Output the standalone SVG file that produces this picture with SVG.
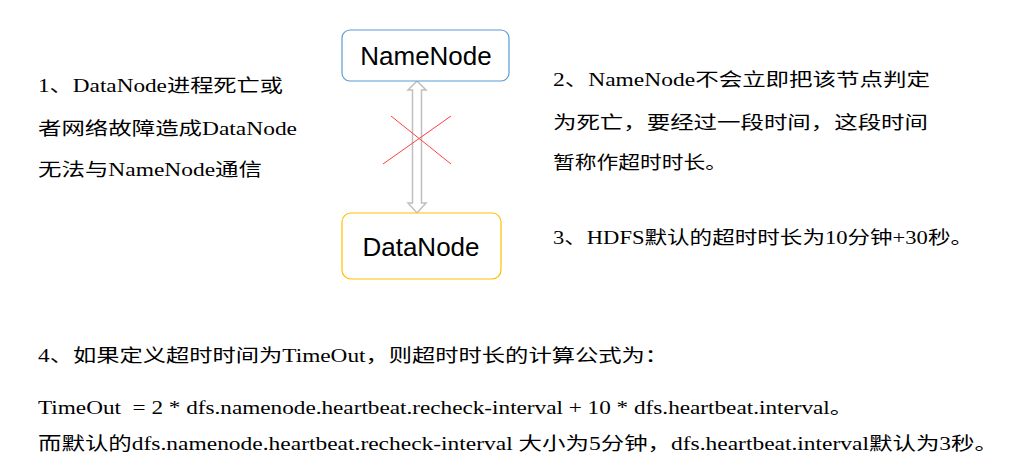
<svg xmlns="http://www.w3.org/2000/svg" width="1017" height="474" viewBox="0 0 1017 474">
<style>
.box{fill:#ffffff;stroke-width:1.2}
.nl{font-family:"Liberation Sans",Arial,sans-serif;font-size:26px;fill:#000;text-anchor:middle}
.t{font-family:"Liberation Serif","Noto Sans CJK SC",serif;font-size:18px;fill:#000}
</style>
<rect width="1017" height="474" fill="#ffffff"/>
<g id="connectors">
<polygon points="417,81 426,90 421.5,90 421.5,203 426,203 417,213 408,203 412.5,203 412.5,90 408,90" fill="#ffffff" stroke="#BFBFBF" stroke-width="1.5" stroke-linejoin="miter"/>
<line x1="391" y1="116" x2="451" y2="164" stroke="#FF4040" stroke-width="1"/>
<line x1="383" y1="164" x2="451" y2="116" stroke="#FF4040" stroke-width="1"/>
</g>
<g id="namenode">
<rect class="box" x="342" y="30" width="167" height="51" rx="8" stroke="#5B9BD5"/>
<text class="nl" x="426" y="65">NameNode</text>
</g>
<g id="datanode">
<rect class="box" x="342" y="213" width="159" height="66" rx="9" stroke="#FFC000"/>
<text class="nl" x="421" y="256">DataNode</text>
</g>
<g id="note-left">
<text class="t" x="38" y="92" textLength="245" lengthAdjust="spacingAndGlyphs">1、DataNode进程死亡或</text>
<text class="t" x="38" y="135" textLength="259" lengthAdjust="spacingAndGlyphs">者网络故障造成DataNode</text>
<text class="t" x="38" y="176" textLength="224" lengthAdjust="spacingAndGlyphs">无法与NameNode通信</text>
</g>
<g id="note-right">
<text class="t" x="553" y="86" textLength="377" lengthAdjust="spacingAndGlyphs">2、NameNode不会立即把该节点判定</text>
<text class="t" x="553" y="129" textLength="375" lengthAdjust="spacingAndGlyphs">为死亡，要经过一段时间，这段时间</text>
<text class="t" x="553" y="169" textLength="174" lengthAdjust="spacingAndGlyphs">暂称作超时时长。</text>
<text class="t" x="553" y="244" textLength="420" lengthAdjust="spacingAndGlyphs">3、HDFS默认的超时时长为10分钟+30秒。</text>
</g>
<g id="note-bottom">
<text class="t" x="38" y="362" textLength="630" lengthAdjust="spacingAndGlyphs">4、如果定义超时时间为TimeOut，则超时时长的计算公式为：</text>
<text class="t" x="38" y="414" textLength="815" lengthAdjust="spacingAndGlyphs" xml:space="preserve">TimeOut  = 2 * dfs.namenode.heartbeat.recheck-interval + 10 * dfs.heartbeat.interval。</text>
<text class="t" x="38" y="450" textLength="960" lengthAdjust="spacingAndGlyphs" xml:space="preserve">而默认的dfs.namenode.heartbeat.recheck-interval 大小为5分钟，dfs.heartbeat.interval默认为3秒。</text>
</g>
</svg>
